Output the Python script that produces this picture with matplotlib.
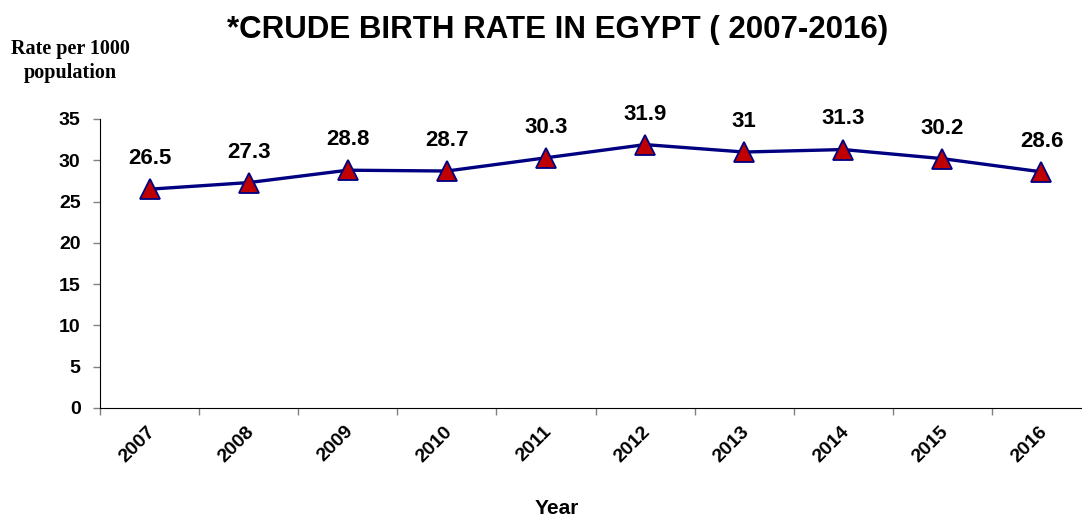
import matplotlib.pyplot as plt

years = ["2007", "2008", "2009", "2010", "2011", "2012", "2013", "2014", "2015", "2016"]
rates = [26.5, 27.3, 28.8, 28.7, 30.3, 31.9, 31, 31.3, 30.2, 28.6]
rate_labels = ["26.5", "27.3", "28.8", "28.7", "30.3", "31.9", "31", "31.3", "30.2", "28.6"]

plt.rcParams['font.family'] = ['Liberation Sans', 'DejaVu Sans']

fig = plt.figure(figsize=(10.82, 5.17), dpi=100)
# axes: left 100px, right ~1091px, bottom y=408, top y=119
ax = fig.add_axes([100/1082, (517-408)/517, 991/1082, (408-119)/517])

x = list(range(len(years)))
ax.plot(x, rates, color='#000080', lw=2.4, marker='^', markersize=14,
        markerfacecolor='#C00000', markeredgecolor='#000080', markeredgewidth=1.3, zorder=3)

for xi, v, lab in zip(x, rates, rate_labels):
    ax.annotate(lab, (xi, v), xytext=(0, 22), textcoords='offset points',
                ha='center', va='center', fontsize=16, fontweight='bold')

ax.set_xlim(-0.5, len(years) - 0.5)
ax.set_ylim(0, 35)
ax.set_yticks(range(0, 36, 5))
ax.set_yticklabels([str(v) for v in range(0, 36, 5)], fontsize=14, fontweight='bold')
ax.set_xticks([i - 0.5 for i in range(len(years))])
ax.set_xticklabels([])
for xi, yr in zip(x, years):
    ax.text(xi - 0.03, -1.8, yr, rotation=45, ha='right', va='top', fontsize=14,
            fontweight='bold', rotation_mode='anchor', transform=ax.transData)

ax.spines['top'].set_visible(False)
ax.spines['right'].set_visible(False)
ax.tick_params(axis='both', colors='#808080', labelcolor='black', length=5, width=1)
ax.tick_params(axis='y', pad=9)

fig.text(558/1082, 1 - 30/517, "*CRUDE BIRTH RATE IN EGYPT ( 2007-2016)", ha='center', va='center',
         fontsize=22.5, fontweight='bold')
fig.text(70/1082, 1 - 61/517, "Rate per 1000\npopulation", ha='center', va='center',
         fontsize=14.5, fontweight='bold', family='Liberation Serif', linespacing=1.25)
fig.text(557/1082, 1 - 508/517, "Year", ha='center', va='center', fontsize=15, fontweight='bold')

fig.savefig("out.png", dpi=100)
